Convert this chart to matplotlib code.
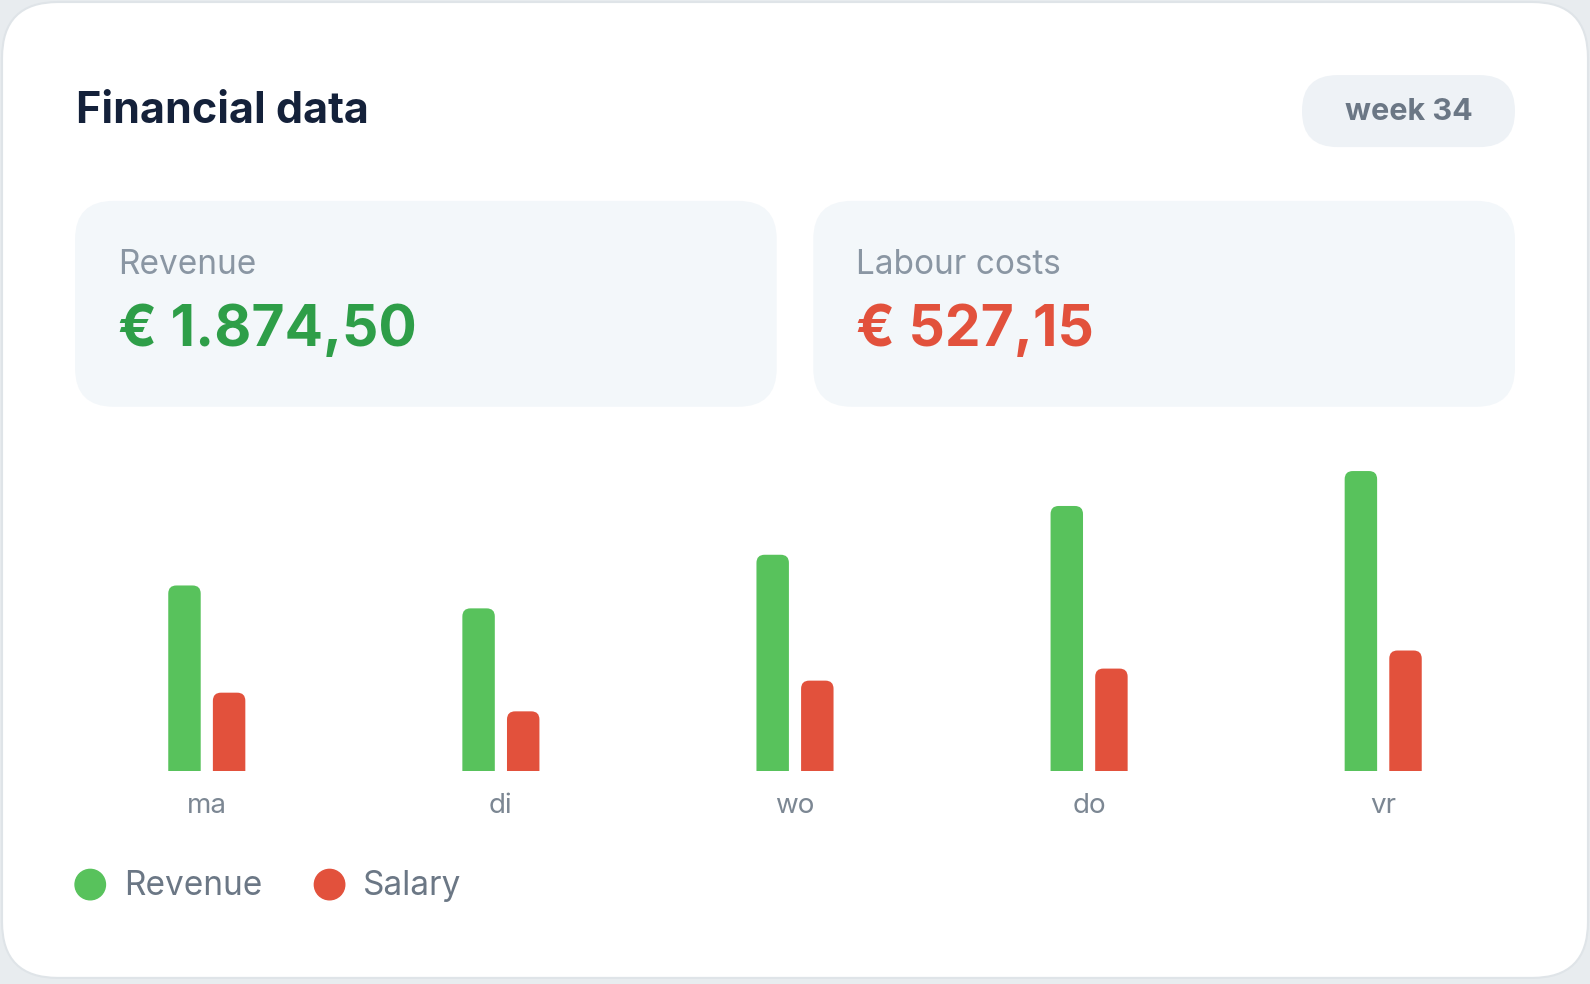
import matplotlib.pyplot as plt
from matplotlib.patches import FancyBboxPatch, Circle

days = ['ma', 'di', 'wo', 'do', 'vr']
revenue = [308, 270, 359, 440, 498]
salary = [130, 99, 150, 170, 200]

GREEN = '#58c25c'
RED = '#e2513c'
W, H = 1568, 970

fig = plt.figure(figsize=(15.9, 9.84), dpi=100)
fig.patch.set_facecolor('#e8ecef')
bg = fig.add_axes([0, 0, 1, 1])
bg.set_xlim(0, W)
bg.set_ylim(H, 0)
bg.axis('off')

def rbox(x0, y0, x1, y1, r, fc, ec='none', lw=0):
    bg.add_patch(FancyBboxPatch((x0, y0), x1 - x0, y1 - y0,
                                boxstyle=f'round,pad=0,rounding_size={r}',
                                fc=fc, ec=ec, lw=lw))

rbox(2, 2, 1566, 964, 55, 'white', '#dfe4e8', 1.5)
font = 'Inter'
bg.text(75, 110, 'Financial data', fontsize=31, fontweight='bold', color='#14213a',
        va='center', family=font)
rbox(1284, 74, 1494, 145, 35, '#eef2f6')
bg.text(1389, 110, 'week 34', fontsize=22, fontweight='bold', color='#6b7785',
        ha='center', va='center', family=font)

rbox(74, 198, 766, 401, 38, '#f3f7fa')
rbox(802, 198, 1494, 401, 38, '#f3f7fa')
bg.text(116, 261, 'Revenue', fontsize=24, color='#8a96a3', va='center', family=font)
bg.text(844, 261, 'Labour costs', fontsize=24, color='#8a96a3', va='center', family=font)
bg.text(116, 326, '€ 1.874,50', fontsize=41, fontweight='bold', color='#2e9e48',
        va='center', family=font)
bg.text(844, 326, '€ 527,15', fontsize=41, fontweight='bold', color='#e2513c',
        va='center', family=font)

# bar chart
ax = fig.add_axes([74 / W, 1 - 760 / H, 1420 / W, 320 / H])
ax.axis('off')
ax.set_xlim(-0.448, 4.448)
ax.set_ylim(0, 539)
bw = 32 / 290
off = 22 / 290
rad = 8 / 290
asp = (539 / 320) * 290
for i, (r, s) in enumerate(zip(revenue, salary)):
    for x, v, c in [(i - off, r, GREEN), (i + off, s, RED)]:
        ax.add_patch(FancyBboxPatch((x - bw / 2, -30), bw, v + 30,
                                    boxstyle=f'round,pad=0,rounding_size={rad}',
                                    mutation_aspect=asp, fc=c, ec='none'))
    ax.text(i, -35 * 539 / 320, days[i], fontsize=20, color='#7c8793',
            ha='center', va='center', family=font)

bg.add_patch(Circle((89, 872), 15, color=GREEN))
bg.add_patch(Circle((325, 872), 15, color=RED))
bg.text(122, 873, 'Revenue', fontsize=24, color='#6b7785', va='center', family=font)
bg.text(358, 873, 'Salary', fontsize=24, color='#6b7785', va='center', family=font)

fig.savefig('out.png', dpi=100, facecolor=fig.get_facecolor())
